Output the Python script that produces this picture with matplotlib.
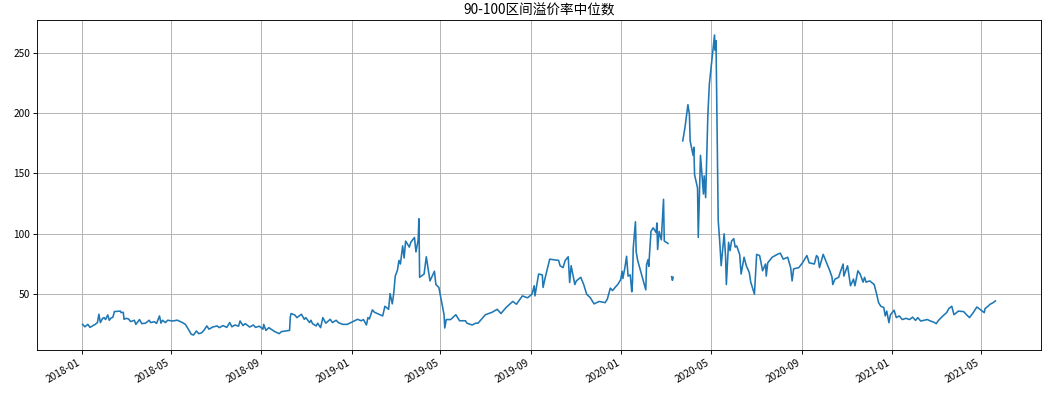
import matplotlib
matplotlib.use("Agg")
import matplotlib.pyplot as plt
import matplotlib.dates as mdates
import numpy as np
import pandas as pd

plt.rcParams['font.family'] = ['Noto Sans CJK SC', 'DejaVu Sans']
plt.rcParams['axes.unicode_minus'] = False

title = "90-100区间溢价率中位数"

dates = [
    "2018-01-02", "2018-01-05", "2018-01-09", "2018-01-12", "2018-01-16", "2018-01-19",
    "2018-01-22", "2018-01-24", "2018-01-26", "2018-01-29", "2018-01-31", "2018-02-02",
    "2018-02-05", "2018-02-07", "2018-02-09", "2018-02-12", "2018-02-14", "2018-02-22",
    "2018-02-23", "2018-02-26", "2018-02-27", "2018-03-02", "2018-03-05", "2018-03-08",
    "2018-03-13", "2018-03-15", "2018-03-20", "2018-03-23", "2018-03-28", "2018-04-02",
    "2018-04-04", "2018-04-09", "2018-04-12", "2018-04-16", "2018-04-18", "2018-04-20",
    "2018-04-24", "2018-04-27", "2018-05-04", "2018-05-10", "2018-05-14", "2018-05-17",
    "2018-05-21", "2018-05-25", "2018-05-29", "2018-06-01", "2018-06-05", "2018-06-08",
    "2018-06-12", "2018-06-15", "2018-06-19", "2018-06-22", "2018-06-27", "2018-07-03",
    "2018-07-06", "2018-07-11", "2018-07-16", "2018-07-20", "2018-07-23", "2018-07-27",
    "2018-08-01", "2018-08-03", "2018-08-07", "2018-08-10", "2018-08-16", "2018-08-21",
    "2018-08-24", "2018-08-29", "2018-09-03", "2018-09-04", "2018-09-07", "2018-09-11",
    "2018-09-14", "2018-09-19", "2018-09-25", "2018-09-28", "2018-10-09", "2018-10-10",
    "2018-10-11", "2018-10-16", "2018-10-19", "2018-10-25", "2018-10-29", "2018-10-31",
    "2018-11-05", "2018-11-07", "2018-11-09", "2018-11-14", "2018-11-16", "2018-11-20",
    "2018-11-23", "2018-11-27", "2018-12-03", "2018-12-06", "2018-12-11", "2018-12-14",
    "2018-12-20", "2018-12-26", "2018-12-28",
    "2019-01-04", "2019-01-09", "2019-01-14", "2019-01-17", "2019-01-21", "2019-01-23",
    "2019-01-25", "2019-01-29", "2019-02-01", "2019-02-12", "2019-02-15", "2019-02-20",
    "2019-02-22", "2019-02-25", "2019-02-27", "2019-03-01", "2019-03-04", "2019-03-06",
    "2019-03-08", "2019-03-11", "2019-03-13", "2019-03-15", "2019-03-20", "2019-03-22",
    "2019-03-27", "2019-03-29", "2019-04-01", "2019-04-02", "2019-04-03", "2019-04-09",
    "2019-04-12", "2019-04-17", "2019-04-23", "2019-04-25", "2019-04-29", "2019-05-06",
    "2019-05-07", "2019-05-09", "2019-05-15", "2019-05-22", "2019-05-27", "2019-06-04",
    "2019-06-06", "2019-06-13", "2019-06-18", "2019-06-21", "2019-07-01", "2019-07-10",
    "2019-07-17", "2019-07-22", "2019-07-29", "2019-08-07", "2019-08-12", "2019-08-20",
    "2019-08-27", "2019-09-02", "2019-09-05", "2019-09-06", "2019-09-11", "2019-09-16",
    "2019-09-17", "2019-09-20", "2019-09-26", "2019-10-08", "2019-10-10", "2019-10-14",
    "2019-10-17", "2019-10-21", "2019-10-23", "2019-10-25", "2019-10-30", "2019-11-01",
    "2019-11-07", "2019-11-11", "2019-11-15", "2019-11-20", "2019-11-25", "2019-12-02",
    "2019-12-10", "2019-12-13", "2019-12-17", "2019-12-20", "2019-12-24", "2019-12-27",
    "2019-12-31",
    "2020-01-02", "2020-01-03", "2020-01-06", "2020-01-08", "2020-01-10", "2020-01-13",
    "2020-01-15", "2020-01-16", "2020-01-17", "2020-01-20", "2020-01-21", "2020-01-23",
    "2020-02-03", "2020-02-04", "2020-02-06", "2020-02-07", "2020-02-10", "2020-02-13",
    "2020-02-17", "2020-02-18", "2020-02-19", "2020-02-21", "2020-02-24", "2020-02-27",
    "2020-02-28", "2020-03-03", "2020-03-04", "2020-03-06", "2020-03-09", "2020-03-10",
    "2020-03-11", "2020-03-16", "2020-03-24", "2020-03-27", "2020-03-31", "2020-04-02",
    "2020-04-03", "2020-04-07", "2020-04-08", "2020-04-09", "2020-04-13", "2020-04-14",
    "2020-04-17", "2020-04-21", "2020-04-22", "2020-04-24", "2020-04-27", "2020-04-29",
    "2020-05-06", "2020-05-07", "2020-05-08", "2020-05-11", "2020-05-13", "2020-05-15",
    "2020-05-19", "2020-05-21", "2020-05-22", "2020-05-25", "2020-05-27", "2020-05-29",
    "2020-06-01", "2020-06-03", "2020-06-05", "2020-06-09", "2020-06-11", "2020-06-15",
    "2020-06-18", "2020-06-22", "2020-06-24", "2020-06-29", "2020-07-02", "2020-07-06",
    "2020-07-08", "2020-07-10", "2020-07-14", "2020-07-15", "2020-07-17", "2020-07-23",
    "2020-07-30", "2020-08-03", "2020-08-07", "2020-08-13", "2020-08-17", "2020-08-19",
    "2020-08-21", "2020-08-28", "2020-09-02", "2020-09-04", "2020-09-08", "2020-09-11",
    "2020-09-18", "2020-09-21", "2020-09-23", "2020-09-25", "2020-09-30", "2020-10-09",
    "2020-10-12", "2020-10-13", "2020-10-16", "2020-10-21", "2020-10-23", "2020-10-27",
    "2020-10-28", "2020-11-02", "2020-11-04", "2020-11-06", "2020-11-10", "2020-11-12",
    "2020-11-16", "2020-11-19", "2020-11-23", "2020-11-25", "2020-11-27", "2020-12-02",
    "2020-12-04", "2020-12-08", "2020-12-11", "2020-12-14", "2020-12-17", "2020-12-21",
    "2020-12-23", "2020-12-25", "2020-12-28", "2020-12-30",
    "2021-01-04", "2021-01-07", "2021-01-11", "2021-01-15", "2021-01-20", "2021-01-25",
    "2021-01-29", "2021-02-02", "2021-02-05", "2021-02-09", "2021-02-18", "2021-02-22",
    "2021-02-26", "2021-03-02", "2021-03-05", "2021-03-11", "2021-03-16", "2021-03-19",
    "2021-03-23", "2021-03-26", "2021-04-01", "2021-04-08", "2021-04-12", "2021-04-16",
    "2021-04-21", "2021-04-26", "2021-04-29", "2021-05-06", "2021-05-07", "2021-05-11",
    "2021-05-14", "2021-05-18", "2021-05-21",
]

nan = float("nan")
values = [
    25, 23, 25, 22.5, 24, 25,
    26.5, 33.4, 26.5, 30, 30.6, 29,
    32.8, 28.4, 30, 31, 35.6, 36,
    34.8, 35, 29.2, 30, 29.5, 27.3,
    28.4, 25, 29, 25.6, 26, 28.4,
    26.5, 27.2, 25.8, 32, 26, 28.4,
    26.5, 28.4, 27.8, 28.5, 27.3, 26.5,
    25, 21, 16.8, 16.2, 19.5, 17.3,
    18, 20, 23.7, 21, 22.8, 23.7,
    22.3, 24, 22.5, 26.5, 23, 24.5,
    23.5, 27.8, 24, 25.6, 22.8, 24.5,
    22.5, 23.5, 21, 25, 20, 22.3,
    21, 19, 17.3, 19, 20, 31.2,
    34, 32.8, 30.6, 33.4, 29.2, 30.6,
    26.5, 28.4, 25.6, 23.7, 26, 22.3,
    30.6, 26, 29.2, 26.5, 28.4, 26.5,
    25, 25, 25.6,
    27.8, 29.2, 28, 29, 24.5, 30.6,
    29.5, 37, 35, 32, 40, 37.5,
    50.5, 42, 51, 65, 70, 78,
    75, 90, 80, 94, 89, 93,
    97, 85, 95, 112.5, 64, 66.7,
    81, 61, 69, 58, 55.6, 33,
    22, 29, 29, 33, 28, 28,
    26, 24.5, 26, 26, 33, 35,
    37.5, 34, 39, 44, 41.7, 48.6,
    47, 50, 57, 48.6, 66.7, 66,
    55.6, 64, 79, 78, 73.6, 72,
    78, 81, 59.7, 73.6, 58, 61,
    64, 58, 50, 47, 42, 44,
    43, 46, 55, 53, 56, 58,
    62,
    69, 63, 73, 81.4, 65, 66,
    52, 60, 88, 110, 85, 78,
    53.6, 74.4, 78.6, 73, 102, 105,
    101, 109, 87, 102, 95, 128.6,
    94, 92.5, 92, nan, 64.5, 61.5,
    64, nan, 177, 188, 207, 199,
    177, 165, 171.7, 149, 138, 97,
    165, 133, 148, 130, 199, 224,
    264.7, 252, 260, 111, 94, 73.6,
    100, 80.6, 58, 93, 86, 94,
    96, 89, 90, 83, 66.7, 80.6,
    73.6, 68, 60, 50, 83, 82,
    76, 69.4, 75, 65, 76, 80.6,
    83, 84, 79, 80.6, 72, 61,
    71, 72, 76, 78, 82, 76,
    75, 82, 80.6, 72, 83, 69.4,
    64, 58, 62.5, 64, 68, 75,
    65, 73.6, 65, 57, 62.5, 57,
    69.4, 66.7, 60, 64, 60, 61,
    60, 58, 51, 43, 40, 39,
    32, 36, 26.4, 33,
    36.7, 30.6, 32, 29, 30, 29,
    31, 28.3, 30.6, 27.8, 29, 27.8,
    27, 25.6, 28.3, 32, 34.7, 38,
    40, 33, 36, 35.6, 33, 30.6,
    34.7, 39.4, 38, 34.7, 38, 40,
    41.7, 43, 44.4,
]

series = pd.Series(values, index=pd.to_datetime(dates))

fig = plt.figure(figsize=(10.56, 3.93), dpi=100)
ax = fig.add_axes([37 / 1056, 1 - 350 / 393, (1041 - 37) / 1056, (350 - 20) / 393])
ax.plot(series.index, series.values, color="#1f77b4", linewidth=1.15)
ax.set_title(title, fontsize=9.8, pad=4)
ax.grid(True, color="#b0b0b0", linewidth=0.65)
for sp in ax.spines.values():
    sp.set_linewidth(0.65)

ax.xaxis.set_major_locator(mdates.MonthLocator(bymonth=[1, 5, 9]))
ax.xaxis.set_major_formatter(mdates.DateFormatter("%Y-%m"))
ax.tick_params(axis="both", labelsize=7.3, length=2.6, width=0.65, pad=2.5)
for lbl in ax.get_xticklabels():
    lbl.set_rotation(30)
    lbl.set_ha("right")

fig.savefig("out.png", dpi=100)
